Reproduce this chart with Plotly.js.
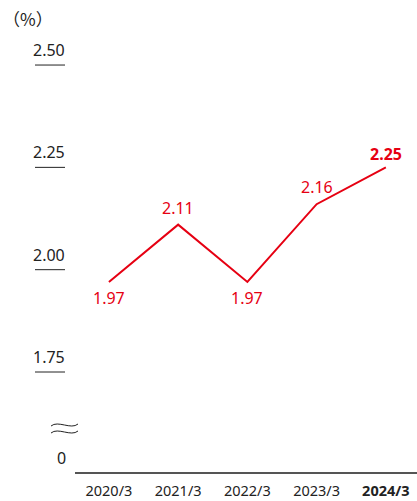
<!DOCTYPE html>
<html>
<head>
<meta charset="utf-8">
<script src="https://cdn.plot.ly/plotly-3.0.1.min.js"></script>
<style>html,body{margin:0;padding:0;background:#fff;}#chart{width:417px;height:501px;}</style>
</head>
<body>
<div id="chart"></div>
<script>
var categories = ["2020/3", "2021/3", "2022/3", "2023/3", "2024/3"];
var values = [1.97, 2.11, 1.97, 2.16, 2.25];
var labelBelow = [true, false, true, false, false];
var yTickVals = [2.50, 2.25, 2.00, 1.75];
var yTickLabels = ["2.50", "2.25", "2.00", "1.75"];
var zeroLabel = "0";
var unitLabel = "（%）";

var RED = "#e60012";
var DARK = "#222222";
var FONT = "'Noto Sans', 'Noto Sans CJK JP', sans-serif";
var CJK = "'Noto Sans CJK JP', sans-serif";

var W = 417, H = 501, ML = 75, MR = 0, MT = 30, MB = 29;
var PW = W - ML - MR, PH = H - MT - MB;
function px(x){ return (x - ML) / PW; }
function py(y){ return (H - MB - y) / PH; }

var xIdx = categories.map(function(c, i){ return i; });
var tickText = categories.map(function(c, i){ return i === categories.length - 1 ? "<b>" + c + "</b>" : c; });
var dataText = values.map(function(v, i){ var s = v.toFixed(2); return i === values.length - 1 ? "<b>" + s + "</b>" : s; });

var trace = {
  x: xIdx,
  y: values,
  type: "scatter",
  mode: "lines",
  line: {color: RED, width: 2},
  hoverinfo: "skip",
  cliponaxis: false
};

var annotations = values.map(function(v, i){
  return {xref: "x", yref: "y", x: xIdx[i], y: v, yshift: labelBelow[i] ? -16 : (i === values.length - 1 ? 13 : 17),
    xanchor: "center", yanchor: "middle", text: dataText[i], showarrow: false,
    font: {family: FONT, size: 16, color: RED}};
});
yTickVals.forEach(function(v, i){
  annotations.push({xref: "paper", yref: "y", x: px(49), y: v, yshift: 15, xanchor: "center", yanchor: "middle",
    text: yTickLabels[i], showarrow: false, font: {family: FONT, size: 16, color: DARK}});
});
annotations.push({xref: "paper", yref: "paper", x: px(61), y: 0, yshift: 14, xanchor: "center", yanchor: "middle",
  text: zeroLabel, showarrow: false, font: {family: FONT, size: 16, color: DARK}});
annotations.push({xref: "paper", yref: "paper", x: px(28), y: py(18), xanchor: "center", yanchor: "middle",
  text: unitLabel, showarrow: false, font: {family: CJK, size: 17, color: DARK}});

var shapes = yTickVals.map(function(v){
  return {type: "line", xref: "paper", yref: "y", x0: px(35), x1: px(65), y0: v, y1: v,
    line: {color: DARK, width: 1}};
});
function wave(y){
  return "M" + px(51) + "," + py(y + 1) +
    " C" + px(58) + "," + py(y - 5) + " " + px(71) + "," + py(y + 5) + " " + px(78) + "," + py(y - 1);
}
shapes.push({type: "path", xref: "paper", yref: "paper", path: wave(425), line: {color: DARK, width: 1}});
shapes.push({type: "path", xref: "paper", yref: "paper", path: wave(432), line: {color: DARK, width: 1}});

var layout = {
  width: W, height: H,
  margin: {l: ML, r: MR, t: MT, b: MB, pad: 0},
  paper_bgcolor: "#fff", plot_bgcolor: "#fff",
  showlegend: false,
  xaxis: {
    range: [-0.49, 4.45], tickvals: xIdx, ticktext: tickText,
    showgrid: false, zeroline: false, showline: true, linecolor: "#555", linewidth: 2,
    ticks: "", ticklabelstandoff: 5, tickfont: {family: FONT, size: 14.5, color: DARK}, fixedrange: true
  },
  yaxis: {
    range: [1.5057, 2.5856], showgrid: false, zeroline: false, showline: false,
    showticklabels: false, ticks: "", fixedrange: true
  },
  annotations: annotations,
  shapes: shapes
};

Plotly.newPlot("chart", [trace], layout, {displayModeBar: false, staticPlot: true});
</script>
</body>
</html>
